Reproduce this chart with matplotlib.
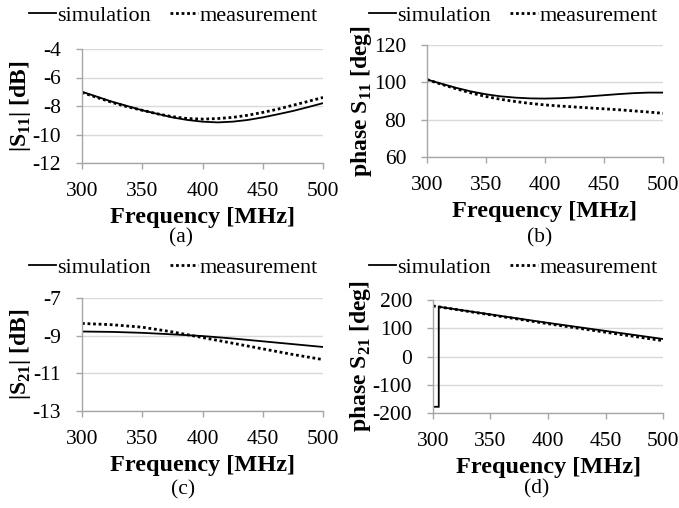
import matplotlib
matplotlib.use("Agg")
import matplotlib.pyplot as plt
from matplotlib.lines import Line2D

plt.rcParams['font.family'] = ['Liberation Serif', 'DejaVu Serif']
plt.rcParams['mathtext.fontset'] = 'custom'
plt.rcParams['mathtext.rm'] = 'Liberation Serif'
plt.rcParams['mathtext.bf'] = 'Liberation Serif:bold'
plt.rcParams['axes.unicode_minus'] = False

# frequency grids in MHz
freq_fine = [300, 312.5, 325, 337.5, 350, 362.5, 375, 387.5, 400,
             412.5, 425, 437.5, 450, 462.5, 475, 487.5, 500]
freq = [300, 325, 350, 375, 400, 425, 450, 475, 500]

# (a) |S11| in dB
s11_db_sim = [-7.0, -7.35, -7.7, -8.0, -8.3, -8.55, -8.8, -8.98, -9.1,
              -9.15, -9.1, -8.98, -8.8, -8.58, -8.35, -8.08, -7.8]
s11_db_meas = [-7.05, -7.4, -7.75, -8.05, -8.3, -8.55, -8.75, -8.88, -8.92,
               -8.88, -8.8, -8.65, -8.45, -8.22, -7.95, -7.68, -7.4]

# (b) phase S11 in deg
s11_ph_sim = [101.5, 99.2, 97.0, 95.1, 93.6, 92.5, 91.8, 91.4, 91.3,
              91.5, 91.9, 92.5, 93.1, 93.7, 94.2, 94.5, 94.5]
s11_ph_meas = [101.5, 98.9, 96.5, 94.3, 92.4, 90.9, 89.7, 88.7, 87.9,
               87.3, 86.8, 86.3, 85.8, 85.3, 84.7, 84.1, 83.4]

# (c) |S21| in dB
s21_db_sim = [-8.78, -8.8, -8.85, -8.93, -9.02, -9.15, -9.3, -9.45, -9.6]
s21_db_meas = [-8.35, -8.42, -8.55, -8.8, -9.1, -9.4, -9.7, -10.0, -10.27]

# (d) phase S21 in deg (simulation wraps at ~305 MHz)
freq_ph21_sim = [300, 305, 305, 400, 500]
s21_ph_sim = [-178, -178, 176, 119, 62]
freq_ph21_meas = [300, 400, 500]
s21_ph_meas = [179, 116, 56]

W, H = 679, 508
fig = plt.figure(figsize=(W / 100, H / 100), dpi=100)

def axes_px(l, r, t, b):
    return fig.add_axes([l / W, 1 - b / H, (r - l) / W, (b - t) / H])

grid_c = '#d9d9d9'
spine_c = '#a6a6a6'

def style(ax, ylim, yticks, ylabel):
    ax.set_xlim(300, 500)
    ax.set_xticks([300, 350, 400, 450, 500])
    ax.set_ylim(*ylim)
    ax.set_yticks(yticks)
    ax.grid(axis='y', color=grid_c, lw=1)
    ax.set_axisbelow(True)
    for s in ['top', 'right']:
        ax.spines[s].set_visible(False)
    for s in ['left', 'bottom']:
        ax.spines[s].set_color(spine_c)
        ax.spines[s].set_linewidth(1)
    ax.tick_params(axis='both', colors=spine_c, labelcolor='black',
                   labelsize=15.5, length=4, width=1)
    ax.tick_params(axis='x', pad=10)
    ax.tick_params(axis='y', pad=11)
    ax.set_xlabel('Frequency [MHz]', fontsize=17.5, fontweight='bold', labelpad=4)
    ax.set_ylabel(ylabel, fontsize=17, fontweight='bold', labelpad=0)

def plot_pair(ax, xs, ys, xm, ym):
    ax.plot(xs, ys, color='black', lw=1.3, solid_joinstyle='miter')
    ax.plot(xm, ym, color='black', lw=2, linestyle=(0, (1, 1)))

ax_a = axes_px(82, 323, 49, 163)
plot_pair(ax_a, freq_fine, s11_db_sim, freq_fine, s11_db_meas)
style(ax_a, (-12, -4), [-12, -10, -8, -6, -4], r'|S$_\mathbf{11}$| [dB]')

ax_b = axes_px(427, 663, 45, 157)
plot_pair(ax_b, freq_fine, s11_ph_sim, freq_fine, s11_ph_meas)
style(ax_b, (60, 120), [60, 80, 100, 120], r'phase S$_\mathbf{11}$ [deg]')

ax_c = axes_px(82, 323, 298, 411)
plot_pair(ax_c, freq, s21_db_sim, freq, s21_db_meas)
style(ax_c, (-13, -7), [-13, -11, -9, -7], r'|S$_\mathbf{21}$| [dB]')

ax_d = axes_px(433, 663, 300, 413)
plot_pair(ax_d, freq_ph21_sim, s21_ph_sim, freq_ph21_meas, s21_ph_meas)
style(ax_d, (-200, 200), [-200, -100, 0, 100, 200], r'phase S$_\mathbf{21}$ [deg]')

handles = [Line2D([], [], color='black', lw=1.3),
           Line2D([], [], color='black', lw=2, linestyle=(0, (1, 1)))]
labels = ['simulation', 'measurement']
for cx, cy in [(173, 16), (513, 16), (173, 268), (513, 268)]:
    fig.legend(handles, labels, loc='center', bbox_to_anchor=(cx / W, 1 - cy / H),
               ncol=2, frameon=False, fontsize=16, handlelength=1.25,
               handletextpad=0.05, columnspacing=0.85, borderpad=0, borderaxespad=0)

for txt, cx, cy in [('(a)', 181, 238), ('(b)', 540, 238), ('(c)', 183, 490), ('(d)', 537, 489)]:
    fig.text(cx / W, 1 - cy / H, txt, ha='center', va='center', fontsize=15.5)

fig.savefig('out.png', dpi=100)
